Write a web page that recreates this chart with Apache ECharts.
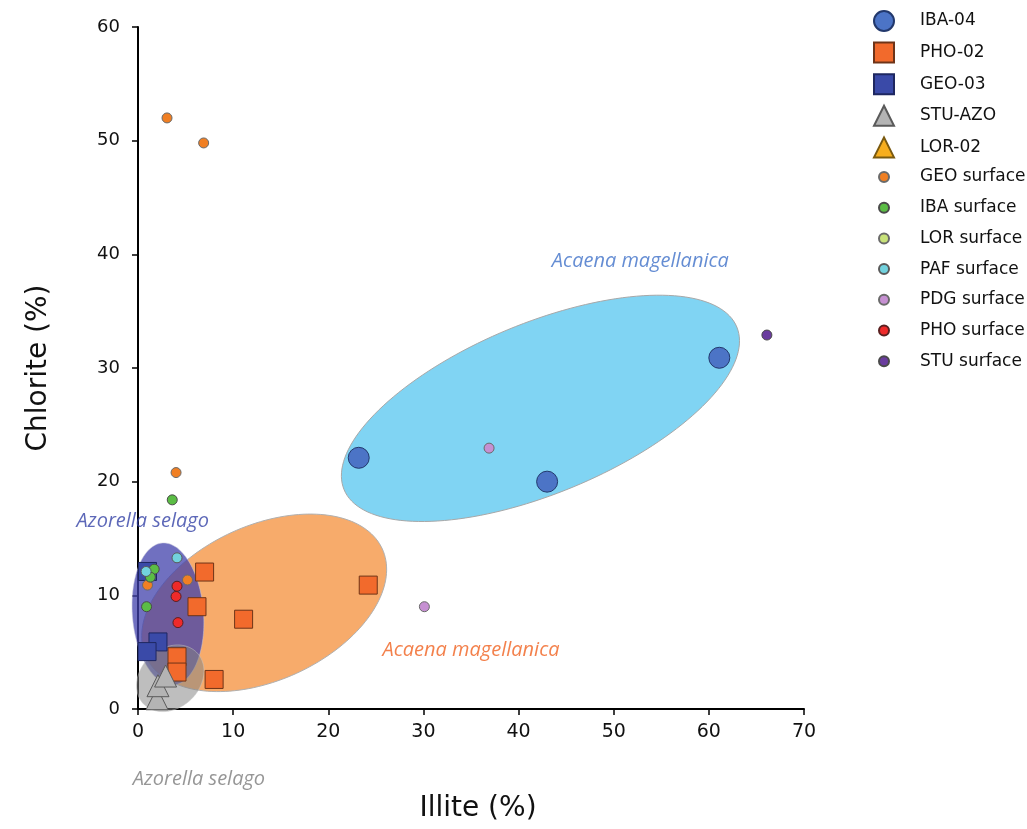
<!DOCTYPE html>
<html>
<head>
<meta charset="utf-8">
<script src="https://cdn.jsdelivr.net/npm/echarts@6/dist/echarts.min.js"></script>
<style>
html,body{margin:0;padding:0;background:#fff;}
#chart{width:1027px;height:829px;}
</style>
</head>
<body>
<div id="chart"></div>
<script>
// ---- data (Illite %, Chlorite %) ----
var xTicks = [0, 10, 20, 30, 40, 50, 60, 70];
var yTicks = [0, 10, 20, 30, 40, 50, 60];

var IBA04 = [[23.2, 22.1], [43.0, 20.0], [61.1, 30.9]];
var PHO02 = [[7.0, 12.05], [24.2, 10.9], [6.2, 9.0], [11.1, 7.9], [4.1, 4.6], [4.1, 3.25], [8.0, 2.6]];
var GEO03 = [[1.0, 12.1], [2.1, 5.9], [0.95, 5.05]];
var STUAZO = [[2.0, 0.9], [2.1, 2.05], [2.9, 2.9]];
var LOR02 = [];
var GEOsurf = [[3.05, 52.0], [6.9, 49.8], [4.0, 20.8], [1.0, 10.9], [5.2, 11.35]];
var IBAsurf = [[3.6, 18.4], [1.7, 12.3], [1.3, 11.6], [0.9, 9.0]];
var LORsurf = [];
var PAFsurf = [[4.1, 13.3], [0.85, 12.1]];
var PDGsurf = [[36.9, 22.95], [30.1, 9.0]];
var PHOsurf = [[4.1, 10.8], [4.0, 9.9], [4.2, 7.6]];
var STUsurf = [[66.1, 32.9]];

// ellipses: [centreX, centreY, semiAxis1 (x units), semiAxis2 (x units), rotation deg]
var ellipseAcaenaBlue = [42.3, 26.45, 22.34, 8.95, 22.5];
var ellipseAcaenaOrange = [13.26, 9.34, 13.65, 8.15, 24.5];
var ellipseAzorellaBlue = [3.15, 8.36, 3.74, 7.48, 4.6];
var ellipseAzorellaGrey = [3.39, 2.7, 3.89, 3.11, 43.4];

// annotations: [x, y, text]
var annotations = [
  [52.8, 39.4, 'Acaena magellanica'],
  [35.0, 5.2, 'Acaena magellanica'],
  [0.5, 16.5, 'Azorella selago'],
  [6.4, -6.16, 'Azorella selago']
];

var ellipseStyles = [
  {fill: '#80d4f3', stroke: '#a8a8a8'},
  {fill: '#f7ab6b', stroke: '#b0b0b0'},
  {fill: 'rgba(64,64,171,0.75)', stroke: 'rgba(200,200,220,0.5)'},
  {fill: 'rgba(130,130,130,0.52)', stroke: 'rgba(200,200,200,0.5)'}
];
var annColors = ['#3f70c8', '#f0621f', '#3442a6', '#7c7c7c'];

var chart = echarts.init(document.getElementById('chart'), null, {renderer: 'canvas'});

function ellipseRender(params, api) {
  var c = api.coord([api.value(0), api.value(1)]);
  var unit = api.size([1, 0])[0];
  var a = api.value(2) * unit, b = api.value(3) * unit;
  var ang = api.value(4) * Math.PI / 180;
  var pts = [];
  var n = 160;
  for (var i = 0; i < n; i++) {
    var t = 2 * Math.PI * i / n;
    var x = a * Math.cos(t), y = b * Math.sin(t);
    var X = x * Math.cos(ang) - y * Math.sin(ang);
    var Y = x * Math.sin(ang) + y * Math.cos(ang);
    pts.push([c[0] + X, c[1] - Y]);
  }
  var st = ellipseStyles[params.dataIndex];
  return {type: 'polygon', shape: {points: pts}, style: {fill: st.fill, stroke: st.stroke, lineWidth: 1}};
}

function sc(name, data, symbol, size, color, border, z) {
  return {
    name: name, type: 'scatter', data: data, symbol: symbol, symbolSize: size, z: z || 3,
    itemStyle: {color: color, borderColor: border, borderWidth: 1, opacity: 1},
    emphasis: {disabled: true}
  };
}

var font = 'DejaVu Sans';

var option = {
  animation: false,
  backgroundColor: '#fff',
  grid: {left: 138, right: 223, top: 27, bottom: 120, containLabel: false},
  xAxis: {
    type: 'value', min: 0, max: 70, interval: 10,
    name: 'Illite (%)', nameLocation: 'middle', nameGap: 86,
    nameTextStyle: {fontSize: 28, color: '#111', fontFamily: font, padding: [0, 0, 0, 14]},
    axisLine: {show: true, onZero: false, lineStyle: {color: '#000', width: 2}},
    axisTick: {show: true, length: 6, lineStyle: {color: '#000', width: 1.5}},
    axisLabel: {fontSize: 19, color: '#111', fontFamily: font, margin: 14,
      formatter: function (v) { return xTicks.indexOf(v) >= 0 ? String(v) : ''; }},
    splitLine: {show: false}
  },
  yAxis: {
    type: 'value', min: 0, max: 60, interval: 10,
    name: 'Chlorite (%)', nameLocation: 'middle', nameGap: 85,
    nameTextStyle: {fontSize: 28, color: '#111', fontFamily: font},
    axisLine: {show: true, onZero: false, lineStyle: {color: '#000', width: 2}},
    axisTick: {show: true, length: 6, lineStyle: {color: '#000', width: 1.5}},
    axisLabel: {fontSize: 18, color: '#111', fontFamily: font, margin: 18,
      formatter: function (v) { return yTicks.indexOf(v) >= 0 ? String(v) : ''; }},
    splitLine: {show: false}
  },
  legend: [
    {
      orient: 'vertical', left: 873, top: 10, padding: 0, itemWidth: 20, itemHeight: 20, itemGap: 9.6,
      textStyle: {fontSize: 17, color: '#111', fontFamily: font, lineHeight: 20, padding: [0, 0, 0, 21]},
      selectedMode: false,
      data: ['IBA-04', 'PHO-02', 'GEO-03', 'STU-AZO', 'LOR-02']
    },
    {
      orient: 'vertical', left: 878, top: 167, padding: 0, itemWidth: 10, itemHeight: 10, itemGap: 10.7,
      textStyle: {fontSize: 17, color: '#111', fontFamily: font, lineHeight: 20, padding: [0, 0, 0, 26]},
      selectedMode: false,
      data: ['GEO surface', 'IBA surface', 'LOR surface', 'PAF surface', 'PDG surface', 'PHO surface', 'STU surface']
    }
  ],
  series: [
    {
      name: 'ellipses', type: 'custom', renderItem: ellipseRender, clip: false, z: 1,
      encode: {x: 0, y: 1}, silent: true,
      data: [ellipseAcaenaBlue, ellipseAcaenaOrange, ellipseAzorellaBlue, ellipseAzorellaGrey]
    },
    sc('IBA-04', IBA04, 'circle', 21, '#4c74c6', '#22386c'),
    sc('PHO-02', PHO02, 'rect', 18, '#f26a2c', '#6e3418'),
    sc('GEO-03', GEO03, 'rect', 18, '#3a4aa8', '#1e2760'),
    sc('STU-AZO', STUAZO, 'triangle', 22, '#b4b4b4', '#5a5a5a'),
    sc('LOR-02', LOR02, 'triangle', 22, '#f7ae1e', '#7a5a10'),
    sc('GEO surface', GEOsurf, 'circle', 10, '#f07f23', '#6a6a6a', 4),
    sc('IBA surface', IBAsurf, 'circle', 10, '#5bbd45', '#4a4a4a', 4),
    sc('LOR surface', LORsurf, 'circle', 10, '#c8e27a', '#6a6a6a', 4),
    sc('PAF surface', PAFsurf, 'circle', 10, '#72d2de', '#5a5a5a', 4),
    sc('PDG surface', PDGsurf, 'circle', 10, '#c690d2', '#6a6a6a', 4),
    sc('PHO surface', PHOsurf, 'circle', 10, '#ee2a2a', '#5a2020', 4),
    sc('STU surface', STUsurf, 'circle', 10, '#6a3c9e', '#4a4a4a', 4),
    {
      name: 'annotations', type: 'scatter', symbolSize: 0, clip: false, silent: true, z: 5,
      data: annotations.map(function (a, i) {
        return {value: [a[0], a[1]], name: a[2],
          label: {show: true, position: 'inside', formatter: a[2], color: annColors[i],
            fontSize: 20, fontStyle: 'italic', fontFamily: 'Open Sans'}};
      })
    }
  ]
};
chart.setOption(option);
</script>
</body>
</html>
